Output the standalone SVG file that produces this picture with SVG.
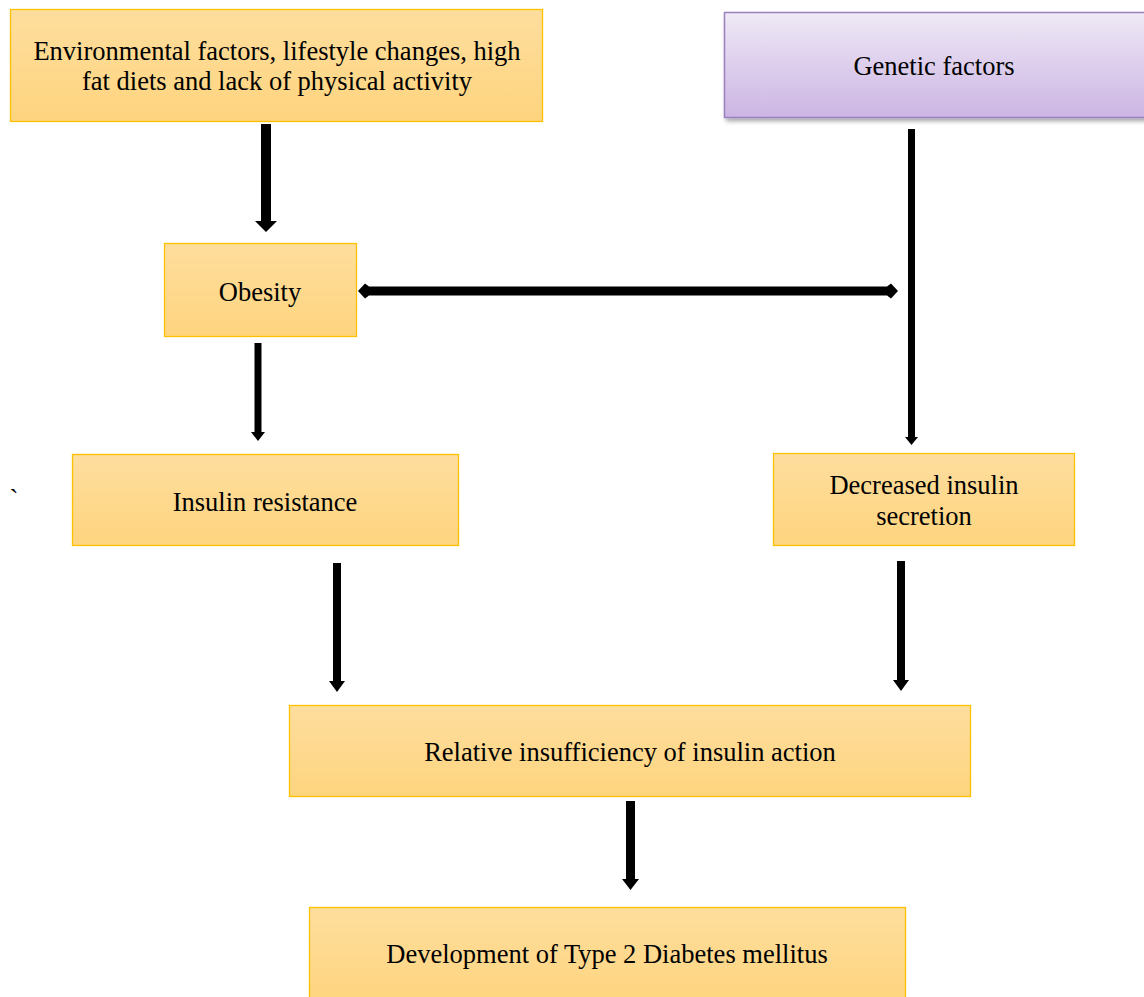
<svg xmlns="http://www.w3.org/2000/svg" width="1144" height="997" viewBox="0 0 1144 997">
  <defs>
    <linearGradient id="gOrange" x1="0" y1="0" x2="0" y2="1">
      <stop offset="0" stop-color="#FEDE9E"/>
      <stop offset="1" stop-color="#FED47E"/>
    </linearGradient>
    <linearGradient id="gPurple" x1="0" y1="0" x2="0" y2="1">
      <stop offset="0" stop-color="#EFE9F6"/>
      <stop offset="1" stop-color="#CCB5E3"/>
    </linearGradient>
    <filter id="shadow" x="-10%" y="-10%" width="130%" height="140%">
      <feDropShadow dx="2" dy="3" stdDeviation="2" flood-color="#000" flood-opacity="0.35"/>
    </filter>
  </defs>
  <style>
    .box { fill: url(#gOrange); stroke: #FFC000; stroke-width: 1.3; }
    .pbox { fill: url(#gPurple); stroke: #9B7FBE; stroke-width: 1.5; }
    text { font-family: 'Liberation Serif', 'Times New Roman', serif; font-size: 26.5px; fill: #000; text-anchor: middle; }
    .arr { fill: #000; }
  </style>
  <rect width="1144" height="997" fill="#fff"/>

  <g id="env">
    <rect class="box" x="10.5" y="9.5" width="532" height="112"/>
    <text x="277" y="60">Environmental factors, lifestyle changes, high</text>
    <text x="277" y="90">fat diets and lack of physical activity</text>
  </g>

  <g id="genetic">
    <rect class="pbox" x="724.5" y="12.5" width="440" height="105" filter="url(#shadow)"/>
    <text x="934" y="75">Genetic factors</text>
  </g>

  <g id="obesity">
    <rect class="box" x="164.5" y="243.5" width="192" height="93"/>
    <text x="260" y="301">Obesity</text>
  </g>

  <g id="insulin-resistance">
    <rect class="box" x="72.5" y="454.5" width="386" height="91"/>
    <text x="265" y="511">Insulin resistance</text>
  </g>

  <g id="decreased-secretion">
    <rect class="box" x="773.5" y="453.5" width="301" height="92"/>
    <text x="924" y="494">Decreased insulin</text>
    <text x="924" y="525">secretion</text>
  </g>

  <g id="relative">
    <rect class="box" x="289.5" y="705.5" width="681" height="91"/>
    <text x="630" y="761">Relative insufficiency of insulin action</text>
  </g>

  <g id="development">
    <rect class="box" x="309.5" y="907.5" width="596" height="95"/>
    <text x="607" y="963">Development of Type 2 Diabetes mellitus</text>
  </g>

  <g id="misc">
    <text x="14" y="508">`</text>
  </g>

  <g id="connectors">
    <path class="arr" d="M261,124 H271 V221 H277 L266,232 L255,221 H261 Z"/>
    <path class="arr" d="M908,129 H915 V437 H918 L911.5,445 L905,437 H908 Z"/>
    <path class="arr" d="M358,291 L365,283.5 L369,286.5 H887 L891,283.5 L898,291 L891,298.5 L887,295.5 H369 L365,298.5 Z"/>
    <path class="arr" d="M254.5,343 H261.5 V432 H265 L258,441 L251,432 H254.5 Z"/>
    <path class="arr" d="M333,563 H341 V681 H345 L337,692 L329,681 H333 Z"/>
    <path class="arr" d="M897,561 H905 V680 H909 L901,691 L893,680 H897 Z"/>
    <path class="arr" d="M626,801 H635 V879 H639 L630.5,890 L622,879 H626 Z"/>
  </g>
</svg>
